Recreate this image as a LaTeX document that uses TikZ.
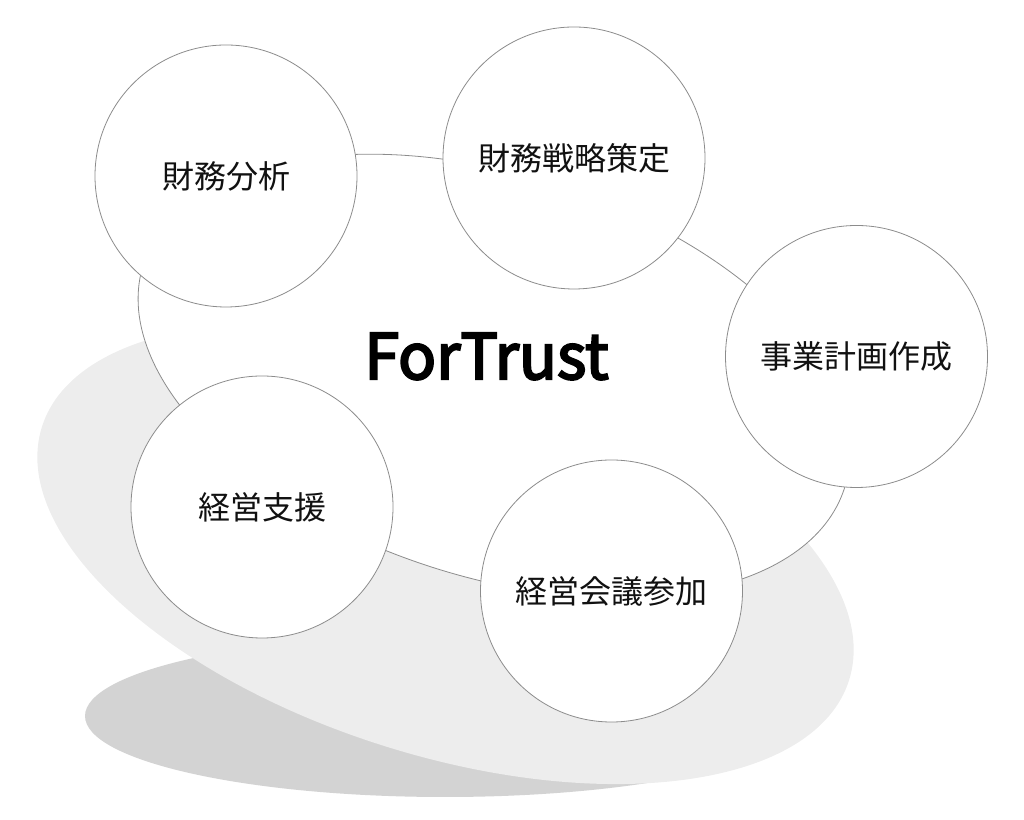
\documentclass[tikz,border=0pt]{standalone}
\usepackage{fontspec}
\newfontfamily\jpfont{Noto Sans CJK JP}
\newfontfamily\brandfont[FakeBold=3.5]{Noto Sans CJK JP}
\definecolor{shadowdark}{HTML}{D3D3D3}
\definecolor{shadowlight}{HTML}{EDEDED}
\definecolor{edgegray}{HTML}{8C8C8C}
\definecolor{inkblack}{HTML}{111111}
\tikzset{
  topic/.style={circle, draw=edgegray, line width=0.6pt, fill=white, inner sep=0pt,
    minimum size=196.5pt, font=\jpfont\fontsize{24pt}{28pt}\selectfont, text=inkblack},
  brand/.style={font=\brandfont\fontsize{47pt}{50pt}\selectfont, text=black, inner sep=0pt, anchor=base}
}
\begin{document}
\begin{tikzpicture}[x=0.75pt,y=0.75pt]
\useasboundingbox (0,0) rectangle (1024,820);
% shadows
\fill[shadowdark] (445,104) ellipse [x radius=270pt, y radius=60.75pt];
\fill[shadowlight, rotate around={-17.4:(445.5,266.5)}] (445.5,266.5) ellipse [x radius=317.25pt, y radius=151.5pt];
% core ellipse
\draw[edgegray, line width=0.6pt, fill=white, rotate around={-17.7:(494,444)}] (494,444) ellipse [x radius=276pt, y radius=150.75pt];
\node[brand] (core) at (486.5,441) {ForTrust};
% topics
\node[topic] (t1) at (226,644) {財務分析};
\node[topic] (t2) at (574,662) {財務戦略策定};
\node[topic] (t3) at (856.5,463.5) {事業計画作成};
\node[topic] (t4) at (262,313) {経営支援};
\node[topic] (t5) at (611.5,229) {経営会議参加};
\end{tikzpicture}
\end{document}
